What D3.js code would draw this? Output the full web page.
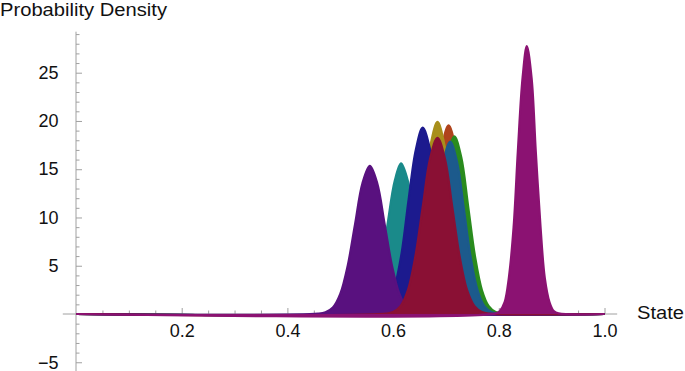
<!DOCTYPE html>
<html>
<head>
<meta charset="utf-8">
<script src="https://cdn.jsdelivr.net/npm/d3@7"></script>
<style>
  body { margin: 0; background: #fff; }
  text { font-family: "Liberation Sans", Arial, sans-serif; fill: #111; }
</style>
</head>
<body>
<div id="chart"></div>
<script>
'use strict';

const width = 685,
    height = 371;

// tick values
const stateTicks = [0.2, 0.4, 0.6, 0.8, 1.0];
const densityTicks = [-5, 5, 10, 15, 20, 25];

// [state, density], one list per curve
const purpleCurve = [[0.458,0.03],[0.472,0.17],[0.486,0.67],[0.500,2.08],[0.514,4.98],[0.528,9.31],[0.542,13.55],[0.556,15.35],[0.570,13.55],[0.584,9.31],[0.598,4.98],[0.612,2.08],[0.626,0.67],[0.640,0.17],[0.654,0.03]];
const tealCurve = [[0.528,0.03],[0.540,0.17],[0.553,0.68],[0.565,2.11],[0.578,5.07],[0.590,9.46],[0.603,13.77],[0.615,15.6],[0.628,13.77],[0.640,9.46],[0.653,5.07],[0.665,2.11],[0.678,0.68],[0.690,0.17],[0.703,0.03]];
const navyCurve = [[0.562,0.04],[0.575,0.21],[0.589,0.85],[0.602,2.61],[0.616,6.27],[0.629,11.71],[0.643,17.03],[0.656,19.3],[0.670,17.03],[0.683,11.71],[0.697,6.27],[0.710,2.61],[0.724,0.85],[0.737,0.21],[0.751,0.04]];
const oliveCurve = [[0.593,0.04],[0.606,0.22],[0.619,0.87],[0.632,2.69],[0.645,6.46],[0.658,12.07],[0.671,17.56],[0.684,19.9],[0.697,17.56],[0.710,12.07],[0.723,6.46],[0.736,2.69],[0.749,0.87],[0.762,0.22],[0.775,0.04]];
const orangeCurve = [[0.614,0.04],[0.627,0.22],[0.640,0.86],[0.653,2.65],[0.666,6.35],[0.679,11.86],[0.692,17.25],[0.705,19.55],[0.718,17.25],[0.731,11.86],[0.744,6.35],[0.757,2.65],[0.770,0.86],[0.783,0.22],[0.796,0.04]];
const greenCurve = [[0.625,0.04],[0.638,0.20],[0.651,0.81],[0.664,2.49],[0.677,5.97],[0.690,11.16],[0.703,16.24],[0.716,18.4],[0.729,16.24],[0.742,11.16],[0.755,5.97],[0.768,2.49],[0.781,0.81],[0.794,0.20],[0.807,0.04]];
const steelCurve = [[0.617,0.04],[0.630,0.20],[0.643,0.78],[0.656,2.42],[0.669,5.80],[0.682,10.83],[0.695,15.75],[0.708,17.85],[0.721,15.75],[0.734,10.83],[0.747,5.80],[0.760,2.42],[0.773,0.78],[0.786,0.20],[0.799,0.04]];
const crimsonCurve = [[0.586,0.04],[0.600,0.20],[0.614,0.80],[0.628,2.47],[0.642,5.93],[0.656,11.07],[0.670,16.11],[0.684,18.25],[0.698,16.11],[0.712,11.07],[0.726,5.93],[0.740,2.47],[0.754,0.80],[0.768,0.20],[0.782,0.04]];
const magentaCurve = [[0.794,0.06],[0.802,0.31],[0.811,1.22],[0.819,3.75],[0.828,9.01],[0.836,16.83],[0.845,24.49],[0.853,27.75],[0.862,24.49],[0.870,16.83],[0.879,9.01],[0.887,3.75],[0.896,1.22],[0.904,0.31],[0.913,0.06]];

// drawing order, bottom to top
const curves = [
    {data: orangeCurve,  color: "#b0441d"},
    {data: oliveCurve,   color: "#a88f1c"},
    {data: greenCurve,   color: "#2a8b1e"},
    {data: steelCurve,   color: "#1c5a8c"},
    {data: tealCurve,    color: "#1a8a8a"},
    {data: navyCurve,    color: "#1c1a8e"},
    {data: purpleCurve,  color: "#59117f"},
    {data: crimsonCurve, color: "#8a1034"},
    {data: magentaCurve, color: "#8b1272"}
];

const xScale = d3.scaleLinear().domain([0, 1]).range([76, 604.5]);
const yScale = d3.scaleLinear().domain([0, 25]).range([314, 72.7]);

const svg = d3.select("#chart")
    .append("svg")
    .attr("width", width)
    .attr("height", height);

svg.append("rect")
    .attr("width", width)
    .attr("height", height)
    .attr("fill", "#fff");

// axis lines
svg.append("line")
    .attr("x1", xScale(-0.025)).attr("x2", xScale(1.024))
    .attr("y1", yScale(0)).attr("y2", yScale(0))
    .attr("stroke", "#a0a0a0");
svg.append("line")
    .attr("x1", xScale(0)).attr("x2", xScale(0))
    .attr("y1", yScale(29.25)).attr("y2", yScale(-6))
    .attr("stroke", "#a0a0a0");

// x ticks (pointing up)
const xMinor = d3.range(1, 20).map(i => i * 0.05).filter(v => Math.abs(v * 5 - Math.round(v * 5)) > 1e-6);
svg.append("g")
    .attr("class", "axis x-minor")
    .attr("transform", `translate(0,${yScale(0)})`)
    .call(d3.axisBottom(xScale).tickValues(xMinor).tickSize(-3.5).tickFormat(""));
svg.append("g")
    .attr("class", "axis x-axis")
    .attr("transform", `translate(0,${yScale(0)})`)
    .call(d3.axisBottom(xScale).tickValues(stateTicks).tickSize(-6).tickPadding(10)
        .tickFormat(d3.format(".1f")));

// y ticks (pointing right)
const yMinor = d3.range(-5, 30).filter(v => v % 5 !== 0);
svg.append("g")
    .attr("class", "axis y-minor")
    .attr("transform", `translate(${xScale(0)},0)`)
    .call(d3.axisLeft(yScale).tickValues(yMinor).tickSize(-3.5).tickFormat(""));
svg.append("g")
    .attr("class", "axis y-axis")
    .attr("transform", `translate(${xScale(0)},0)`)
    .call(d3.axisLeft(yScale).tickValues(densityTicks).tickSize(-6).tickPadding(17.5));

svg.selectAll(".axis .domain").remove();
svg.selectAll(".axis .tick line").attr("stroke", "#a0a0a0");
svg.selectAll(".axis .tick text")
    .attr("font-size", 18)
    .attr("font-family", "'Liberation Sans', Arial, sans-serif")
    .attr("fill", "#111");

// curves
const area = d3.area()
    .curve(d3.curveCatmullRom.alpha(0.5))
    .x(d => xScale(d[0]))
    .y0(yScale(0))
    .y1(d => yScale(d[1]));
const line = d3.line()
    .curve(d3.curveCatmullRom.alpha(0.5))
    .x(d => xScale(d[0]))
    .y(d => yScale(d[1]));

curves.forEach(c => {
    const pts = [[0, 0], ...c.data, [1, 0]];
    svg.append("path")
        .attr("d", area(pts))
        .attr("fill", c.color);
    svg.append("path")
        .attr("d", line(pts))
        .attr("fill", "none")
        .attr("stroke", c.color)
        .attr("stroke-width", 2.2)
        .attr("stroke-linejoin", "round");
});

// axis labels
svg.append("text")
    .attr("x", 0)
    .attr("y", 16)
    .attr("font-size", 17.5)
    .attr("textLength", 167)
    .attr("lengthAdjust", "spacingAndGlyphs")
    .text("Probability Density");

svg.append("text")
    .attr("x", 637)
    .attr("y", 319)
    .attr("font-size", 17.5)
    .attr("textLength", 47)
    .attr("lengthAdjust", "spacingAndGlyphs")
    .text("State");
</script>
</body>
</html>
